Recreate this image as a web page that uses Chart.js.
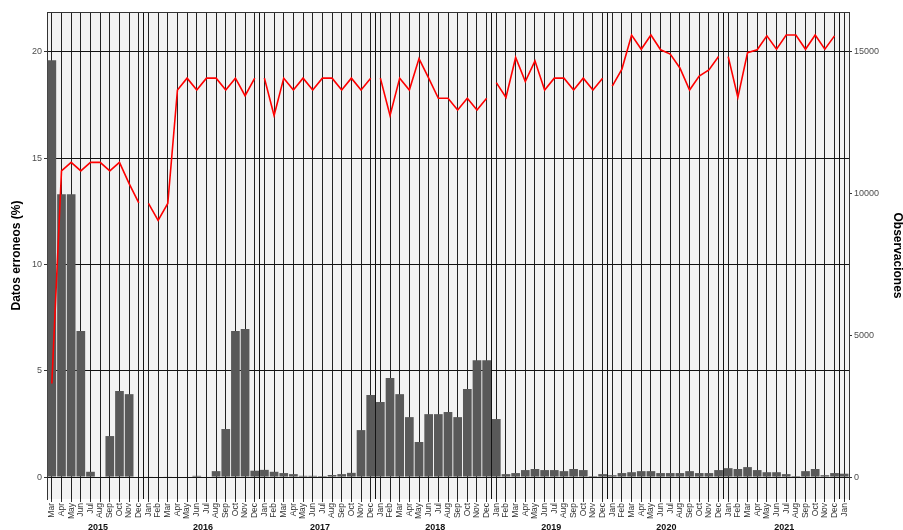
<!DOCTYPE html>
<html><head><meta charset="utf-8">
<script src="https://cdn.jsdelivr.net/npm/chart.js@4"></script>
<style>body{margin:0;background:#fff}canvas{display:block}</style>
</head><body>
<canvas id="c" width="903" height="530"></canvas>
<script>
const categories = [
 "2015-03","2015-04","2015-05","2015-06","2015-07","2015-08","2015-09","2015-10","2015-11","2015-12",
 "2016-01","2016-02","2016-03","2016-04","2016-05","2016-06","2016-07","2016-08","2016-09","2016-10","2016-11","2016-12",
 "2017-01","2017-02","2017-03","2017-04","2017-05","2017-06","2017-07","2017-08","2017-09","2017-10","2017-11","2017-12",
 "2018-01","2018-02","2018-03","2018-04","2018-05","2018-06","2018-07","2018-08","2018-09","2018-10","2018-11","2018-12",
 "2019-01","2019-02","2019-03","2019-04","2019-05","2019-06","2019-07","2019-08","2019-09","2019-10","2019-11","2019-12",
 "2020-01","2020-02","2020-03","2020-04","2020-05","2020-06","2020-07","2020-08","2020-09","2020-10","2020-11","2020-12",
 "2021-01","2021-02","2021-03","2021-04","2021-05","2021-06","2021-07","2021-08","2021-09","2021-10","2021-11","2021-12",
 "2022-01"];
const errores = [
 19.6, 13.3, 13.3, 6.87, 0.25, 0, 1.93, 4.05, 3.9, 0,
 0.02, 0, 0.02, 0, 0, 0.06, 0, 0.28, 2.26, 6.87, 6.96, 0.3,
 0.34, 0.25, 0.19, 0.14, 0.06, 0.06, 0.05, 0.1, 0.14, 0.2, 2.21, 3.86,
 3.53, 4.66, 3.9, 2.82, 1.65, 2.96, 2.96, 3.06, 2.82, 4.14, 5.5, 5.5,
 2.73, 0.14, 0.19, 0.33, 0.38, 0.33, 0.33, 0.28, 0.38, 0.33, 0.05, 0.14,
 0.09, 0.19, 0.23, 0.28, 0.28, 0.19, 0.19, 0.19, 0.28, 0.19, 0.19, 0.33,
 0.42, 0.38, 0.47, 0.33, 0.23, 0.23, 0.14, 0.05, 0.28, 0.38, 0.09, 0.19,
 0.16];
const observaciones = [
 3300, 10800, 11100, 10800, 11100, 11100, 10800, 11100, 10350, 9670,
 9650, 9050, 9650, 13650, 14070, 13650, 14070, 14070, 13650, 14070, 13450, 14070,
 14070, 12750, 14070, 13650, 14070, 13650, 14070, 14070, 13650, 14070, 13650, 14070,
 14070, 12750, 14070, 13650, 14760, 14070, 13360, 13360, 12950, 13360, 12950, 13360,
 13910, 13390, 14800, 13950, 14680, 13650, 14070, 14070, 13650, 14070, 13650, 14070,
 13790, 14390, 15590, 15090, 15590, 15070, 14920, 14430, 13650, 14140, 14360, 14830,
 14830, 13390, 14970, 15070, 15560, 15090, 15590, 15590, 15090, 15590, 15090, 15560,
 null];
const leftTicks = [0, 5, 10, 15, 20];
const rightTicks = [0, 5000, 10000, 15000];
const yearLabels = ["2015","2016","2017","2018","2019","2020","2021"];
const yearPos = [4.78, 15.65, 27.76, 39.67, 51.68, 63.6, 75.8];
const monthAbbr = {"01":"Jan","02":"Feb","03":"Mar","04":"Apr","05":"May","06":"Jun","07":"Jul","08":"Aug","09":"Sep","10":"Oct","11":"Nov","12":"Dec"};

const yearOf = i => categories[i] ? categories[i].slice(0,4) : null;
const monthOf = i => monthAbbr[categories[i].slice(5,7)];
const isJan = i => categories[i] && categories[i].slice(5,7) === "01";

Chart.defaults.font.family = '"Liberation Sans", Arial, Helvetica, sans-serif';

const bg = {id:'bg', beforeDraw(chart){
  const {ctx, chartArea:a} = chart;
  ctx.save();
  ctx.fillStyle = '#fff'; ctx.fillRect(0,0,chart.width,chart.height);
  ctx.fillStyle = '#f2f2f2'; ctx.fillRect(a.left,a.top,a.right-a.left,a.bottom-a.top);
  ctx.restore();
}};

const LMIN = -1.03, LMAX = 21.87, RATIO = 750;

new Chart(document.getElementById('c'), {
  data: {
    labels: categories,
    datasets: [
      {type:'line', label:'Observaciones', data: observaciones, yAxisID:'y1', order:0,
       borderColor:'#ff0000', borderWidth:1.6, pointRadius:0, tension:0, fill:false,
       segment:{borderColor: ctx => yearOf(ctx.p0DataIndex) !== yearOf(ctx.p1DataIndex) ? 'rgba(0,0,0,0)' : '#ff0000'}},
      {type:'bar', label:'Datos erroneos (%)', data: errores, yAxisID:'y', order:1,
       backgroundColor:'#595959', borderWidth:0, barPercentage:0.9, categoryPercentage:1.0}
    ]
  },
  options: {
    responsive:false, animation:false,
    layout:{padding:{top:12, left:0, right:0, bottom:0}},
    plugins:{legend:{display:false}, tooltip:{enabled:false}},
    scales:{
      x:{type:'category', position:'bottom', offset:true, weight:0,
        grid:{offset:false, color:'#222', lineWidth:1, drawTicks:true, tickLength:3, tickColor:'#333'},
        border:{display:false},
        ticks:{autoSkip:false, minRotation:90, maxRotation:90, padding:1, font:{size:8.5}, color:'#333',
          callback:(v,i)=>monthOf(i)},
        afterFit:s=>{s.height=20;}
      },
      xYear:{type:'linear', position:'bottom', weight:1, min:-0.5, max:82.5,
        grid:{display:false, drawTicks:false}, border:{display:false},
        afterBuildTicks:s=>{s.ticks = yearPos.map(v=>({value:v}));},
        ticks:{autoSkip:false, maxRotation:0, padding:3, font:{size:9, weight:'bold'}, color:'#111',
          callback:(v,i)=>yearLabels[i]},
        afterFit:s=>{s.height=11;}
      },
      xb:{type:'category', position:'top', offset:true,
        grid:{offset:true, color:ctx=>isJan(ctx.index)?'#111':'rgba(0,0,0,0)', lineWidth:1, drawTicks:false},
        border:{display:true, color:'#333'},
        ticks:{display:false},
        afterFit:s=>{s.height=0;}
      },
      y:{type:'linear', position:'left', min:LMIN, max:LMAX,
        afterBuildTicks:s=>{s.ticks = leftTicks.map(v=>({value:v}));},
        grid:{color:'#111', lineWidth:1, drawTicks:true, tickLength:3, tickColor:'#333'},
        border:{display:true, color:'#333'},
        ticks:{font:{size:9}, color:'#4d4d4d', padding:2, callback:v=>String(v)},
        title:{display:true, text:'Datos erroneos (%)', font:{size:12, weight:'bold', lineHeight:1}, color:'#000', padding:{top:11,bottom:0}},
        afterFit:s=>{s.width=47;}
      },
      y1:{type:'linear', position:'right', min:LMIN*RATIO, max:LMAX*RATIO,
        afterBuildTicks:s=>{s.ticks = rightTicks.map(v=>({value:v}));},
        grid:{drawOnChartArea:false, drawTicks:true, tickLength:3, tickColor:'#333'},
        border:{display:true, color:'#333'},
        ticks:{font:{size:9}, color:'#4d4d4d', padding:2, callback:v=>String(v)},
        title:{display:true, text:'Observaciones', font:{size:12, weight:'bold', lineHeight:1}, color:'#000', padding:{top:0,bottom:0}},
        afterFit:s=>{s.width=54;}
      }
    }
  },
  plugins:[bg]
});
</script>
</body></html>
